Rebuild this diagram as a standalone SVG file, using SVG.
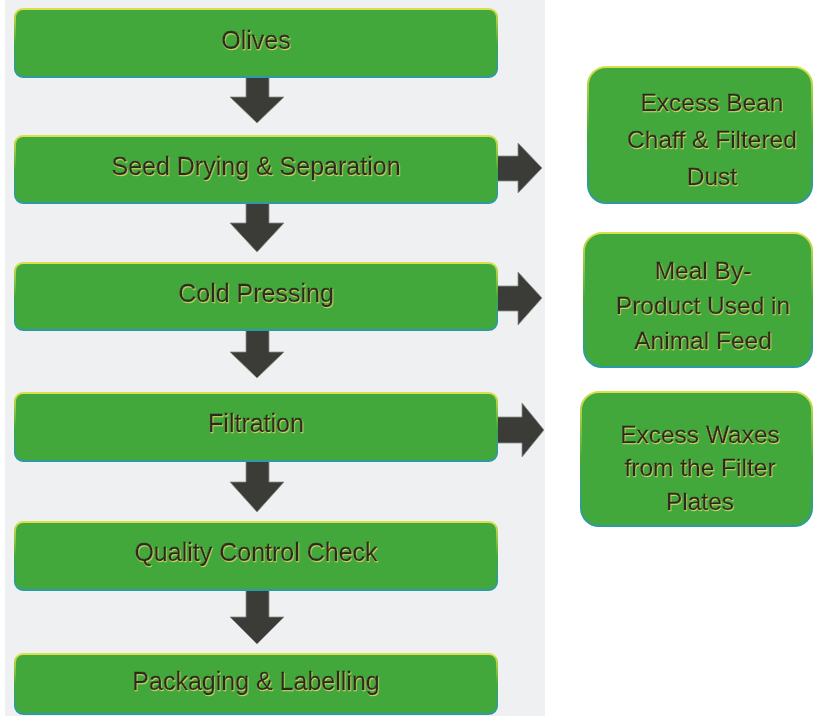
<svg xmlns="http://www.w3.org/2000/svg" width="814" height="716" viewBox="0 0 814 716">
<defs>
<linearGradient id="edge" x1="0" y1="0" x2="0" y2="1">
<stop offset="0" stop-color="#d9e04c"/>
<stop offset="0.5" stop-color="#44a83c"/>
<stop offset="1" stop-color="#2b9aa6"/>
</linearGradient>
<filter id="glow" x="-5%" y="-20%" width="110%" height="140%">
<feDropShadow dx="0.6" dy="1" stdDeviation="0.4" flood-color="#e8e070" flood-opacity="0.9"/>
</filter>
</defs>
<style>
.box{fill:#42a83c;stroke:url(#edge);stroke-width:2}
.lbl{font-family:"Liberation Sans",Arial,sans-serif;font-size:25px;fill:#2a2c20;stroke:#2a2c20;stroke-width:0.35;text-anchor:middle;filter:url(#glow)}
.side{font-family:"Liberation Sans",Arial,sans-serif;font-size:24.5px;fill:#2a2c20;stroke:#2a2c20;stroke-width:0.35;text-anchor:middle;filter:url(#glow)}
.arr{fill:#3b3b37;stroke:#8a8f8c;stroke-width:0.8}
</style>
<rect x="0" y="0" width="814" height="716" fill="#ffffff"/>
<rect x="5" y="0" width="540" height="716" fill="#eef0f1"/>
<g id="connectors">
<polygon class="arr" points="246,74 269,74 269,97 284,97 257,123 230,97 246,97"/>
<polygon class="arr" points="246,202 269,202 269,223 284,223 257,252 230,223 246,223"/>
<polygon class="arr" points="246,329 269,329 269,352 284,352 257,378 230,352 246,352"/>
<polygon class="arr" points="246,460 269,460 269,482 284,482 257,512 230,482 246,482"/>
<polygon class="arr" points="246,589 269,589 269,617 284,617 257,644 230,617 246,617"/>
<polygon class="arr" points="496,156 518,156 518,143 542,168 518,193 518,181 496,181"/>
<polygon class="arr" points="496,286 518,286 518,272 542,298 518,325 518,311 496,311"/>
<polygon class="arr" points="496,417 522,417 522,403 544,430 522,457 522,443 496,443"/>
</g>
<g id="n-olives">
<rect class="box" x="15" y="9" width="482" height="68" rx="8"/>
<text class="lbl" x="256" y="49">Olives</text>
</g>
<g id="n-seed">
<rect class="box" x="15" y="136" width="482" height="67" rx="8"/>
<text class="lbl" x="256" y="175">Seed Drying &amp; Separation</text>
</g>
<g id="n-cold">
<rect class="box" x="15" y="263" width="482" height="67" rx="8"/>
<text class="lbl" x="256" y="302">Cold Pressing</text>
</g>
<g id="n-filtration">
<rect class="box" x="15" y="393" width="482" height="68" rx="8"/>
<text class="lbl" x="256" y="432">Filtration</text>
</g>
<g id="n-quality">
<rect class="box" x="15" y="522" width="482" height="68" rx="8"/>
<text class="lbl" x="256" y="561">Quality Control Check</text>
</g>
<g id="n-packaging">
<rect class="box" x="15" y="654" width="482" height="60" rx="8"/>
<text class="lbl" x="256" y="690">Packaging &amp; Labelling</text>
</g>
<g id="n-chaff">
<rect class="box" x="588" y="67" width="224" height="136" rx="18"/>
<text class="side" x="712" y="111">Excess Bean</text>
<text class="side" x="712" y="148">Chaff &amp; Filtered</text>
<text class="side" x="712" y="185">Dust</text>
</g>
<g id="n-meal">
<rect class="box" x="584" y="233" width="228" height="134" rx="18"/>
<text class="side" x="703" y="279">Meal By-</text>
<text class="side" x="703" y="314">Product Used in</text>
<text class="side" x="703" y="349">Animal Feed</text>
</g>
<g id="n-waxes">
<rect class="box" x="581" y="392" width="231" height="134" rx="18"/>
<text class="side" x="700" y="443">Excess Waxes</text>
<text class="side" x="700" y="476">from the Filter</text>
<text class="side" x="700" y="510">Plates</text>
</g>
</svg>
